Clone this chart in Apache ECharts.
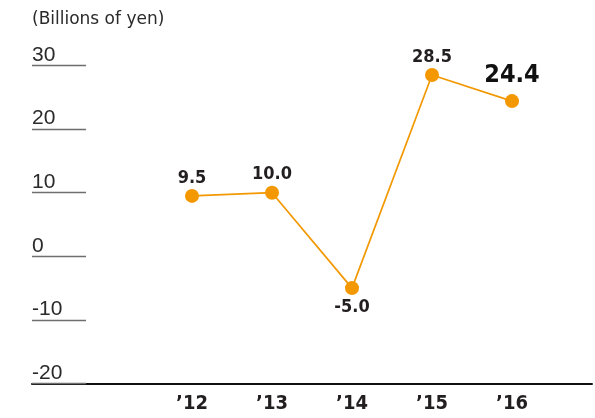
<!DOCTYPE html>
<html>
<head>
<meta charset="utf-8">
<script src="https://cdn.jsdelivr.net/npm/echarts@6/dist/echarts.min.js"></script>
<style>
html,body{margin:0;padding:0;background:#fff;}
#c{width:595px;height:418px;}
</style>
</head>
<body>
<div id="c"></div>
<script>
var years = [2012, 2013, 2014, 2015, 2016];
var values = [9.5, 10.0, -5.0, 28.5, 24.4];
var yTicks = [-20, -10, 0, 10, 20, 30];
var unitLabel = '(Billions of yen)';

var cond = "'DejaVu Sans', sans-serif";
var condW = 'bold condensed';
var titleFont = "'DejaVu Sans', sans-serif";
var tickFont = "'Liberation Sans', Arial, sans-serif";
var last = years.length - 1;

var seriesData = years.map(function (y, i) {
  var item = { value: [y, values[i]] };
  if (i === last) {
    item.label = { fontSize: 25, fontWeight: condW, distance: 6, color: '#111' };
  } else if (values[i] < 0) {
    item.label = { position: 'bottom', distance: 3 };
  }
  return item;
});

var chart = echarts.init(document.getElementById('c'), null, { renderer: 'canvas' });
chart.setOption({
  animation: false,
  backgroundColor: '#fff',
  title: {
    text: unitLabel,
    left: 32,
    top: 11,
    padding: 0,
    textStyle: { fontFamily: titleFont, fontWeight: 'normal', fontSize: 17, color: '#2a2a2a' }
  },
  grid: { left: 32, right: 1, top: 65.5, bottom: 34.5, containLabel: false },
  xAxis: {
    type: 'value',
    min: 2010,
    max: 2017,
    interval: 1,
    axisLine: { show: true, onZero: false, lineStyle: { color: '#111', width: 2 } },
    axisTick: { show: false },
    splitLine: { show: false },
    axisLabel: {
      margin: 10,
      fontFamily: cond,
      fontWeight: condW,
      fontSize: 20,
      lineHeight: 20,
      color: '#231f20',
      showMinLabel: true,
      showMaxLabel: true,
      formatter: function (v) {
        var idx = years.indexOf(v);
        if (idx < 0) return '';
        return '\u2019' + String(v).slice(2);
      }
    }
  },
  yAxis: {
    type: 'value',
    min: yTicks[0],
    max: yTicks[yTicks.length - 1],
    interval: 10,
    axisLine: { show: false },
    axisTick: { show: true, inside: true, length: 54, lineStyle: { color: '#6e6e6e', width: 1.3 } },
    splitLine: { show: false },
    axisLabel: {
      inside: true,
      margin: 0,
      align: 'left',
      verticalAlign: 'bottom',
      fontFamily: tickFont,
      fontWeight: 'normal',
      fontSize: 21,
      lineHeight: 21,
      padding: 0,
      color: '#2a2a2a',
      showMinLabel: true,
      showMaxLabel: true
    }
  },
  series: [{
    type: 'line',
    data: seriesData,
    symbol: 'circle',
    symbolSize: 14,
    lineStyle: { color: '#f39800', width: 1.7 },
    itemStyle: { color: '#f39800' },
    label: {
      show: true,
      position: 'top',
      distance: 2,
      fontFamily: cond,
      fontWeight: condW,
      fontSize: 18,
      color: '#231f20',
      formatter: function (p) { return p.value[1].toFixed(1); }
    }
  }]
});
</script>
</body>
</html>
